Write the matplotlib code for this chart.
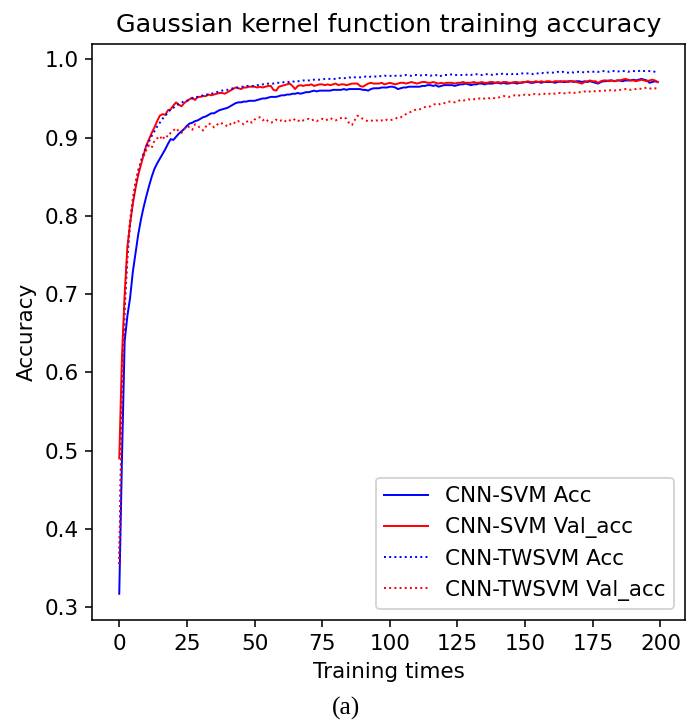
import matplotlib
matplotlib.use('Agg')
import matplotlib.pyplot as plt
import numpy as np

# accuracy per training epoch
svm_acc = [
    0.317, 0.490, 0.640, 0.672, 0.695, 0.728, 0.752, 0.776, 0.795, 0.811,
    0.825, 0.838, 0.850, 0.860, 0.867, 0.873, 0.879, 0.885, 0.892, 0.898,
    0.897, 0.901, 0.905, 0.908, 0.911, 0.915, 0.918, 0.919, 0.921, 0.922,
    0.924, 0.926, 0.927, 0.929, 0.931, 0.931, 0.933, 0.935, 0.936, 0.937,
    0.938, 0.940, 0.942, 0.944, 0.945, 0.945, 0.946, 0.946, 0.947, 0.947,
    0.947, 0.948, 0.949, 0.950, 0.950, 0.951, 0.952, 0.952, 0.952, 0.953,
    0.954, 0.954, 0.955, 0.955, 0.956, 0.956, 0.957, 0.956, 0.957, 0.958,
    0.958, 0.959, 0.960, 0.959, 0.960, 0.960, 0.960, 0.960, 0.960, 0.961,
    0.961, 0.961, 0.961, 0.962, 0.961, 0.962, 0.962, 0.962, 0.962, 0.962,
    0.961, 0.961, 0.960, 0.962, 0.963, 0.963, 0.963, 0.964, 0.964, 0.964,
    0.965, 0.965, 0.964, 0.962, 0.963, 0.964, 0.964, 0.965, 0.965, 0.965,
    0.965, 0.965, 0.966, 0.966, 0.967, 0.967, 0.966, 0.967, 0.965, 0.966,
    0.967, 0.967, 0.967, 0.967, 0.966, 0.967, 0.968, 0.968, 0.969, 0.968,
    0.967, 0.968, 0.968, 0.969, 0.969, 0.968, 0.969, 0.969, 0.969, 0.970,
    0.970, 0.969, 0.970, 0.969, 0.969, 0.970, 0.970, 0.969, 0.970, 0.970,
    0.971, 0.971, 0.970, 0.970, 0.971, 0.971, 0.970, 0.971, 0.971, 0.971,
    0.971, 0.970, 0.971, 0.972, 0.971, 0.971, 0.972, 0.972, 0.971, 0.972,
    0.972, 0.971, 0.972, 0.971, 0.972, 0.971, 0.970, 0.969, 0.971, 0.972,
    0.972, 0.973, 0.973, 0.972, 0.973, 0.973, 0.972, 0.973, 0.973, 0.973,
    0.974, 0.973, 0.974, 0.975, 0.974, 0.973, 0.970, 0.971, 0.972, 0.971,
]

svm_val = [
    0.490, 0.620, 0.700, 0.760, 0.790, 0.815, 0.835, 0.852, 0.865, 0.878,
    0.890, 0.898, 0.906, 0.913, 0.921, 0.928, 0.930, 0.929, 0.935, 0.936,
    0.941, 0.945, 0.942, 0.940, 0.944, 0.947, 0.949, 0.951, 0.948, 0.952,
    0.952, 0.953, 0.953, 0.955, 0.954, 0.955, 0.956, 0.957, 0.957, 0.956,
    0.958, 0.960, 0.962, 0.964, 0.963, 0.962, 0.964, 0.964, 0.965, 0.965,
    0.965, 0.964, 0.965, 0.964, 0.965, 0.966, 0.966, 0.961, 0.960, 0.965,
    0.966, 0.967, 0.968, 0.969, 0.966, 0.962, 0.966, 0.967, 0.966, 0.967,
    0.967, 0.968, 0.966, 0.967, 0.968, 0.968, 0.967, 0.968, 0.967, 0.968,
    0.969, 0.967, 0.968, 0.968, 0.967, 0.968, 0.969, 0.969, 0.969, 0.966,
    0.965, 0.967, 0.969, 0.970, 0.969, 0.969, 0.969, 0.970, 0.968, 0.969,
    0.970, 0.969, 0.968, 0.969, 0.970, 0.970, 0.969, 0.970, 0.971, 0.970,
    0.969, 0.970, 0.971, 0.971, 0.970, 0.970, 0.971, 0.970, 0.969, 0.970,
    0.969, 0.970, 0.970, 0.970, 0.969, 0.970, 0.970, 0.971, 0.970, 0.970,
    0.970, 0.971, 0.970, 0.970, 0.971, 0.970, 0.970, 0.971, 0.971, 0.970,
    0.971, 0.970, 0.971, 0.971, 0.970, 0.970, 0.971, 0.971, 0.970, 0.971,
    0.971, 0.972, 0.971, 0.971, 0.972, 0.971, 0.972, 0.971, 0.972, 0.972,
    0.971, 0.972, 0.972, 0.971, 0.972, 0.972, 0.971, 0.972, 0.972, 0.971,
    0.970, 0.969, 0.971, 0.972, 0.973, 0.972, 0.972, 0.970, 0.972, 0.973,
    0.973, 0.972, 0.973, 0.972, 0.973, 0.973, 0.974, 0.975, 0.974, 0.973,
    0.973, 0.972, 0.973, 0.974, 0.973, 0.972, 0.973, 0.974, 0.973, 0.971,
]

twsvm_acc = [
    0.355, 0.560, 0.680, 0.745, 0.790, 0.818, 0.840, 0.857, 0.870, 0.880,
    0.888, 0.895, 0.902, 0.908, 0.914, 0.919, 0.924, 0.928, 0.932, 0.936,
    0.938, 0.941, 0.943, 0.945, 0.946, 0.947, 0.948, 0.950, 0.951, 0.952,
    0.953, 0.954, 0.955, 0.955, 0.956, 0.957, 0.958, 0.959, 0.960, 0.961,
    0.961, 0.962, 0.963, 0.964, 0.964, 0.965, 0.965, 0.966, 0.966, 0.966,
    0.966, 0.967, 0.967, 0.968, 0.968, 0.969, 0.969, 0.969, 0.970, 0.970,
    0.970, 0.971, 0.971, 0.971, 0.972, 0.971, 0.972, 0.972, 0.973, 0.973,
    0.973, 0.973, 0.974, 0.974, 0.974, 0.974, 0.975, 0.975, 0.975, 0.975,
    0.975, 0.976, 0.976, 0.976, 0.976, 0.977, 0.976, 0.977, 0.977, 0.977,
    0.977, 0.978, 0.977, 0.978, 0.978, 0.978, 0.979, 0.978, 0.979, 0.979,
    0.979, 0.978, 0.979, 0.979, 0.979, 0.979, 0.980, 0.979, 0.979, 0.980,
    0.980, 0.979, 0.980, 0.980, 0.980, 0.979, 0.980, 0.980, 0.978, 0.979,
    0.980, 0.980, 0.980, 0.981, 0.980, 0.980, 0.980, 0.980, 0.980, 0.981,
    0.980, 0.981, 0.981, 0.980, 0.980, 0.981, 0.981, 0.981, 0.980, 0.981,
    0.981, 0.981, 0.982, 0.981, 0.981, 0.981, 0.982, 0.981, 0.982, 0.982,
    0.982, 0.982, 0.982, 0.981, 0.982, 0.982, 0.983, 0.982, 0.983, 0.983,
    0.983, 0.983, 0.984, 0.983, 0.984, 0.983, 0.983, 0.984, 0.983, 0.984,
    0.984, 0.984, 0.983, 0.984, 0.984, 0.984, 0.985, 0.984, 0.984, 0.985,
    0.985, 0.984, 0.985, 0.985, 0.984, 0.985, 0.985, 0.985, 0.984, 0.985,
    0.985, 0.985, 0.985, 0.986, 0.985, 0.985, 0.985, 0.985, 0.984, 0.983,
]

twsvm_val = [
    0.355, 0.565, 0.690, 0.755, 0.795, 0.822, 0.843, 0.858, 0.868, 0.876,
    0.884, 0.890, 0.887, 0.896, 0.899, 0.902, 0.897, 0.903, 0.901, 0.906,
    0.909, 0.912, 0.908, 0.906, 0.911, 0.915, 0.913, 0.910, 0.917, 0.915,
    0.912, 0.909, 0.914, 0.918, 0.917, 0.913, 0.916, 0.919, 0.918, 0.917,
    0.914, 0.917, 0.920, 0.918, 0.921, 0.919, 0.917, 0.920, 0.922, 0.919,
    0.923, 0.925, 0.926, 0.922, 0.924, 0.921, 0.919, 0.920, 0.923, 0.921,
    0.922, 0.920, 0.923, 0.922, 0.921, 0.924, 0.922, 0.920, 0.922, 0.923,
    0.924, 0.922, 0.923, 0.921, 0.923, 0.924, 0.922, 0.923, 0.925, 0.923,
    0.922, 0.924, 0.925, 0.926, 0.924, 0.918, 0.916, 0.922, 0.928, 0.926,
    0.924, 0.922, 0.921, 0.922, 0.921, 0.922, 0.921, 0.922, 0.921, 0.923,
    0.922, 0.923, 0.924, 0.926, 0.926, 0.928, 0.930, 0.932, 0.933, 0.935,
    0.936, 0.936, 0.938, 0.939, 0.939, 0.940, 0.942, 0.943, 0.942, 0.944,
    0.944, 0.945, 0.946, 0.946, 0.945, 0.946, 0.948, 0.947, 0.948, 0.949,
    0.948, 0.949, 0.949, 0.950, 0.949, 0.950, 0.951, 0.950, 0.951, 0.950,
    0.951, 0.952, 0.953, 0.953, 0.952, 0.953, 0.954, 0.953, 0.954, 0.954,
    0.955, 0.954, 0.955, 0.956, 0.955, 0.955, 0.956, 0.956, 0.955, 0.956,
    0.957, 0.956, 0.957, 0.957, 0.956, 0.957, 0.957, 0.958, 0.957, 0.958,
    0.958, 0.958, 0.959, 0.958, 0.959, 0.960, 0.959, 0.959, 0.960, 0.960,
    0.960, 0.960, 0.961, 0.960, 0.961, 0.961, 0.961, 0.962, 0.962, 0.961,
    0.962, 0.962, 0.963, 0.962, 0.963, 0.964, 0.963, 0.962, 0.963, 0.962,
]

epochs = np.arange(len(svm_acc))

plt.rcParams['font.size'] = 11
plt.rcParams['lines.linewidth'] = 1.0

dpi = 141
fig = plt.figure(figsize=(686 / dpi, 723 / dpi), dpi=dpi)
ax = fig.add_axes([0.1346, 0.1425, 0.8634, 0.7965])

ax.plot(epochs, svm_acc, color='blue', label='CNN-SVM Acc')
ax.plot(epochs, svm_val, color='red', label='CNN-SVM Val_acc')
ax.plot(epochs, twsvm_acc, color='blue', linestyle=':', label='CNN-TWSVM Acc')
ax.plot(epochs, twsvm_val, color='red', linestyle=':', label='CNN-TWSVM Val_acc')

ax.set_xticks([0, 25, 50, 75, 100, 125, 150, 175, 200])
ax.set_yticks([0.3, 0.4, 0.5, 0.6, 0.7, 0.8, 0.9, 1.0])
ax.set_title('Gaussian kernel function training accuracy', fontsize=13)
ax.set_xlabel('Training times')
ax.set_ylabel('Accuracy')
ax.legend(loc='lower right')

# caption under the figure, like in the paper
fig.text(0.504, 0.004, '(a)', ha='center', va='bottom',
         family='Liberation Serif', fontsize=13)

fig.savefig('out.png', dpi=dpi)
